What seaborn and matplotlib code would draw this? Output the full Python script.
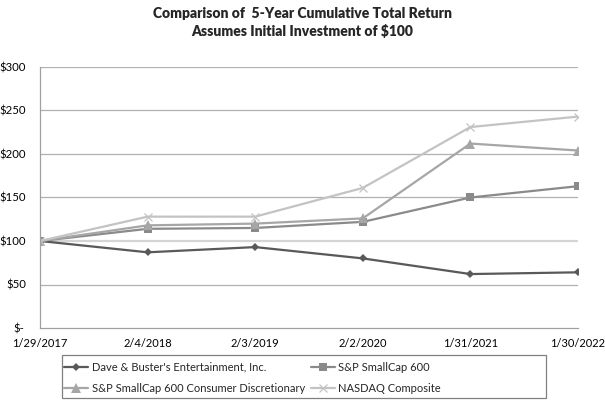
import matplotlib.pyplot as plt
import matplotlib.patches as mpatches
import matplotlib.transforms as mtransforms
import numpy as np
import pandas as pd
import seaborn as sns

dates = ['1/29/2017', '2/4/2018', '2/3/2019', '2/2/2020', '1/31/2021', '1/30/2022']
dave_busters = [100, 87, 93, 80, 62, 64]
smallcap600 = [100, 114, 115, 122, 150, 163]
smallcap_consumer = [100, 118, 120, 126, 212, 204]
nasdaq = [100, 128, 128, 161, 231, 243]

names = ["Dave & Buster's Entertainment, Inc.", 'S&P SmallCap 600',
         'S&P SmallCap 600 Consumer Discretionary', 'NASDAQ Composite']
series = [dave_busters, smallcap600, smallcap_consumer, nasdaq]
colors = ['#595959', '#8a8a8a', '#a6a6a6', '#c3c3c3']
markers = ['D', 's', '^', 'x']
msizes = [4.5, 6, 6.5, 5.5]

rows = []
for name, vals in zip(names, series):
    for i, v in enumerate(vals):
        rows.append({'pos': i, 'value': v, 'series': name})
df = pd.DataFrame(rows)

sns.set_style('white')
plt.rcParams['font.family'] = ['Lato', 'DejaVu Sans']

fig = plt.figure(figsize=(6.05, 4.0), dpi=100)
ax = fig.add_axes([40 / 605, 72 / 400, 538 / 605, 261 / 400])

# gridlines
for yv in [50, 150, 200, 250, 300]:
    ax.axhline(yv, color='#b0b0b0', lw=0.9, zorder=0)
ax.axhline(100, color='#d4d4d4', lw=1.6, zorder=0)

handles = {}
for name, c, m, ms in zip(names, colors, markers, msizes):
    sub = df[df.series == name]
    sns.lineplot(data=sub, x='pos', y='value', ax=ax, color=c, marker=m,
                 markersize=ms, markeredgecolor=c, markeredgewidth=0.9 if m == 'x' else 0,
                 linewidth=1.6, label=name, legend=False)
    handles[name] = ax.lines[-1]

ax.set_xlim(0, 5)
ax.set_ylim(0, 300)
ax.set_xticks(range(len(dates)))
ax.set_xticklabels(dates)
ax.set_yticks([0, 50, 100, 150, 200, 250, 300])
ax.set_yticklabels(['$-', '$50', '$100', '$150', '$200', '$250', '$300'])
ax.set_xlabel('')
ax.set_ylabel('')

for s in ['top', 'right']:
    ax.spines[s].set_visible(False)
ax.spines['left'].set_color('#a0a0a0')
ax.spines['bottom'].set_color('#a0a0a0')
ax.spines['left'].set_linewidth(0.9)
ax.spines['bottom'].set_linewidth(0.9)
ax.tick_params(axis='x', direction='inout', length=6, width=0.9, color='#a0a0a0',
               labelsize=8.0, pad=4, labelcolor='black')
ax.tick_params(axis='y', length=0, labelsize=8.2, pad=10, labelcolor='black')

# "$-" sits a touch further left
lab0 = ax.get_yticklabels()[0]
lab0.set_transform(lab0.get_transform() +
                   mtransforms.ScaledTranslation(-0.02, 0, fig.dpi_scale_trans))

fig.text(0.5, 1 - 13 / 400, 'Comparison of  5-Year Cumulative Total Return',
         ha='center', va='center', fontsize=10, fontweight='heavy')
fig.text(0.5, 1 - 31 / 400, 'Assumes Initial Investment of $100',
         ha='center', va='center', fontsize=10, fontweight='heavy')

order = [names[0], names[2], names[1], names[3]]
leg = fig.legend([handles[n] for n in order], order, ncol=2,
                 loc='center left', bbox_to_anchor=(64 / 605, 1 - 378 / 400),
                 frameon=False, fontsize=8, handlelength=2.2,
                 handletextpad=0.3, columnspacing=0.5, labelspacing=0.95,
                 borderpad=0, borderaxespad=0)

box = mpatches.Rectangle((62 / 605, 1 - 398 / 400), 484 / 605, 43 / 400,
                         transform=fig.transFigure, fill=False,
                         edgecolor='#808080', linewidth=0.9)
fig.patches.append(box)

fig.savefig('out.png', dpi=100)
